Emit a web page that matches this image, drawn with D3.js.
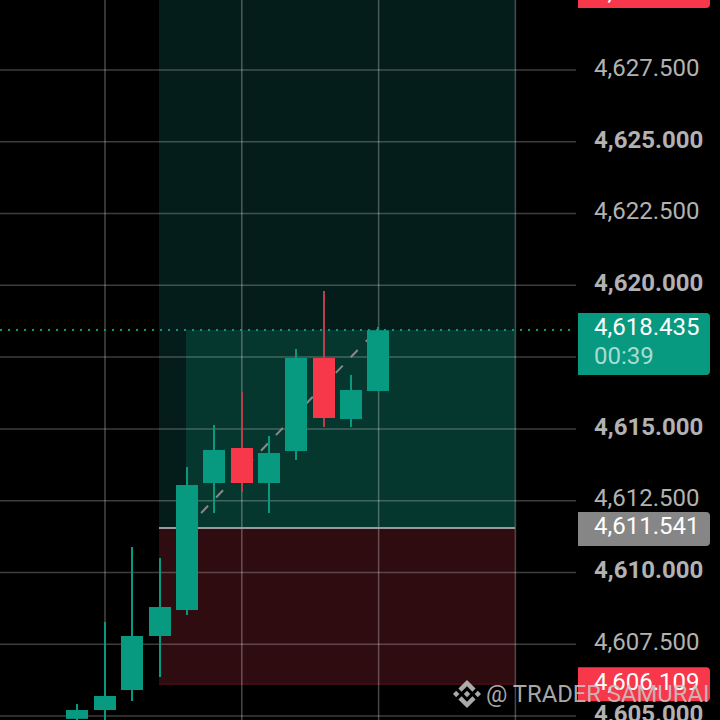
<!DOCTYPE html>
<html lang="en">
<head>
    <meta charset="UTF-8">
    <title>Candlestick chart</title>
    <script src="https://d3js.org/d3.v7.min.js"></script>
    <style>
        html, body { margin: 0; padding: 0; background: #000; overflow: hidden; }
        svg { display: block; }
        text { font-family: Roboto, sans-serif; }
        .axis path { display: none; }
        .axis text { font-size: 24px; fill: #b2b2b2; }
        .axis text.major { font-weight: 700; }
    </style>
</head>
<body>
    <script>
        // Candles, left to right
        const opens  = [4604.90, 4605.208, 4605.905, 4607.786, 4608.691, 4613.115, 4614.334, 4613.115, 4614.229, 4617.469, 4615.344, 4616.319];
        const closes = [4605.208, 4605.696, 4607.786, 4608.796, 4613.045, 4614.264, 4613.115, 4614.160, 4617.469, 4615.379, 4616.354, 4618.435];
        const highs  = [4605.417, 4608.273, 4610.886, 4610.502, 4613.672, 4615.135, 4616.284, 4614.752, 4617.782, 4619.802, 4616.876, 4618.550];
        const lows   = [4604.70, 4604.70, 4605.522, 4606.358, 4608.517, 4612.070, 4612.801, 4612.070, 4613.916, 4615.065, 4615.065, 4616.319];

        // Price axis and vertical grid
        const priceTicks = [4605, 4607.5, 4610, 4612.5, 4615, 4617.5, 4620, 4622.5, 4625, 4627.5];
        const timeGrid = [1, 6, 11, 16];

        // Position tool levels
        const lastPrice = 4618.435;
        const countdown = "00:39";
        const entryPrice = 4611.541;
        const stopPrice = 4606.109;
        const targetPrice = 4630.252;
        const toolStart = 3;
        const toolFillStart = 4;
        const toolEnd = 16;

        // Dashed trend line between the two position points
        const trendIndex = [4.52, 10.6];
        const trendPrice = [4612.07, 4618.10];

        const width = 720;
        const height = 720;
        const axisX = 576;
        const green = "#089981";
        const red = "#f7384a";

        const x = d3.scaleLinear().domain([0, 16]).range([77.45, 515.2]);
        const y = d3.scaleLinear().domain([4605, 4627.5]).range([716, 70]);
        const fmt = d3.format(",.3f");

        const svg = d3.select("body").append("svg")
            .attr("width", width)
            .attr("height", height);

        svg.append("rect").attr("width", width).attr("height", height).attr("fill", "#000");

        // Zones of the position tool
        const zoneLeft = Math.floor(x(toolStart) - 0.5);
        const fillLeft = Math.floor(x(toolFillStart) - 0.5);
        const zoneRight = Math.round(x(toolEnd));
        const entryY = Math.round(y(entryPrice));
        const lastY = Math.round(y(lastPrice));

        svg.append("rect").attr("x", zoneLeft).attr("y", 0)
            .attr("width", zoneRight - zoneLeft).attr("height", entryY)
            .attr("fill", "#041d1a");
        svg.append("rect").attr("x", fillLeft).attr("y", lastY)
            .attr("width", zoneRight - fillLeft).attr("height", entryY - lastY)
            .attr("fill", "#06372f");
        svg.append("rect").attr("x", zoneLeft).attr("y", entryY)
            .attr("width", zoneRight - zoneLeft).attr("height", y(stopPrice) - entryY)
            .attr("fill", "#2e0c0f");
        svg.append("line")
            .attr("x1", zoneLeft).attr("x2", zoneRight)
            .attr("y1", y(stopPrice)).attr("y2", y(stopPrice))
            .attr("stroke", "#5a1219").attr("stroke-width", 1);

        // Grid
        svg.append("g").selectAll("line")
            .data(priceTicks)
            .join("line")
            .attr("x1", 0).attr("x2", axisX)
            .attr("y1", d => y(d)).attr("y2", d => y(d))
            .attr("stroke", "#fff").attr("stroke-opacity", 0.24).attr("stroke-width", 1.5);

        svg.append("g").selectAll("line")
            .data(timeGrid)
            .join("line")
            .attr("x1", d => x(d) + 0.2).attr("x2", d => x(d) + 0.2)
            .attr("y1", 0).attr("y2", height)
            .attr("stroke", "#fff").attr("stroke-opacity", 0.28).attr("stroke-width", 1.5);

        // Entry line
        svg.append("line")
            .attr("x1", zoneLeft).attr("x2", zoneRight)
            .attr("y1", entryY).attr("y2", entryY)
            .attr("stroke", "#9a9a9a").attr("stroke-width", 2);

        // Trend line
        svg.append("line")
            .attr("x1", x(trendIndex[0])).attr("y1", y(trendPrice[0]))
            .attr("x2", x(trendIndex[1])).attr("y2", y(trendPrice[1]))
            .attr("stroke", "#8a8a8a").attr("stroke-width", 2)
            .attr("stroke-dasharray", "10 11.6");

        // Candles
        const candles = svg.append("g").selectAll("g")
            .data(opens.map((o, i) => ({ i, o, c: closes[i], h: highs[i], l: lows[i] })))
            .join("g");

        candles.append("line")
            .attr("x1", d => Math.round(x(d.i))).attr("x2", d => Math.round(x(d.i)))
            .attr("y1", d => y(d.h)).attr("y2", d => y(d.l))
            .attr("stroke", d => d.c >= d.o ? green : "#b8404c")
            .attr("stroke-width", 2);

        candles.append("rect")
            .attr("x", d => Math.round(x(d.i)) - 11)
            .attr("width", 22)
            .attr("y", d => y(Math.max(d.o, d.c)))
            .attr("height", d => Math.abs(y(d.o) - y(d.c)))
            .attr("fill", d => d.c >= d.o ? green : red);

        // Last price dotted line
        svg.append("line")
            .attr("x1", 0).attr("x2", axisX)
            .attr("y1", lastY).attr("y2", lastY)
            .attr("stroke", green).attr("stroke-width", 2)
            .attr("stroke-dasharray", "2 6");

        // Price axis labels
        const axis = svg.append("g")
            .attr("class", "axis")
            .attr("transform", `translate(${axisX},0)`)
            .call(d3.axisRight(y).tickValues(priceTicks).tickSize(0).tickPadding(18).tickFormat(fmt));
        axis.selectAll("line").remove();
        axis.selectAll("text")
            .attr("dy", "0.22em")
            .classed("major", d => d % 5 === 0);

        // Price tags on the axis
        function priceTag(top, h, fill) {
            svg.append("path")
                .attr("d", `M578,${top}H706a4,4 0 0 1 4,4V${top + h - 4}a4,4 0 0 1 -4,4H578Z`)
                .attr("fill", fill);
        }
        function tagText(str, baseline, fill) {
            svg.append("text")
                .attr("x", 594).attr("y", baseline)
                .attr("font-size", 24)
                .attr("fill", fill)
                .text(str);
        }

        const targetY = y(targetPrice);
        priceTag(targetY - 17, 34, red);
        tagText(fmt(targetPrice), targetY + 9, "#fff");

        priceTag(lastY - 17, 62, green);
        tagText(fmt(lastPrice), lastY + 5, "#fff");
        tagText(countdown, lastY + 34, "#a9dcd2");

        priceTag(entryY - 16, 34, "#868686");
        tagText(fmt(entryPrice), entryY + 6, "#fff");

        const stopY = y(stopPrice);
        priceTag(stopY - 17, 34, red);
        tagText(fmt(stopPrice), stopY + 6, "#fff");

        // Watermark: logo and name
        const logoPaths = [
            "M38.73 53.2L63.3 28.63L87.89 53.22L102.19 38.92L63.3 0L24.42 38.9Z",
            "M0 63.31L14.3 49.01L28.6 63.31L14.3 77.61Z",
            "M38.73 73.42L63.3 97.99L87.89 73.4L102.19 87.69L63.3 126.61L24.42 87.71Z",
            "M98.01 63.31L112.31 49.01L126.61 63.31L112.31 77.61Z",
            "M77.83 63.3L63.3 48.78L52.57 59.51L51.33 60.74L48.79 63.28L63.3 77.83L77.83 63.31Z"
        ];
        svg.append("g")
            .attr("transform", "translate(453,680) scale(0.221)")
            .selectAll("path")
            .data(logoPaths)
            .join("path")
            .attr("d", d => d)
            .attr("fill", "#c8c8c8").attr("fill-opacity", 0.85);

        svg.append("text")
            .attr("x", 486).attr("y", 702)
            .attr("font-size", 23.8)
            .attr("fill", "#c8c8c8").attr("fill-opacity", 0.85)
            .text("@ TRADER SAMURAI");
    </script>
</body>
</html>
